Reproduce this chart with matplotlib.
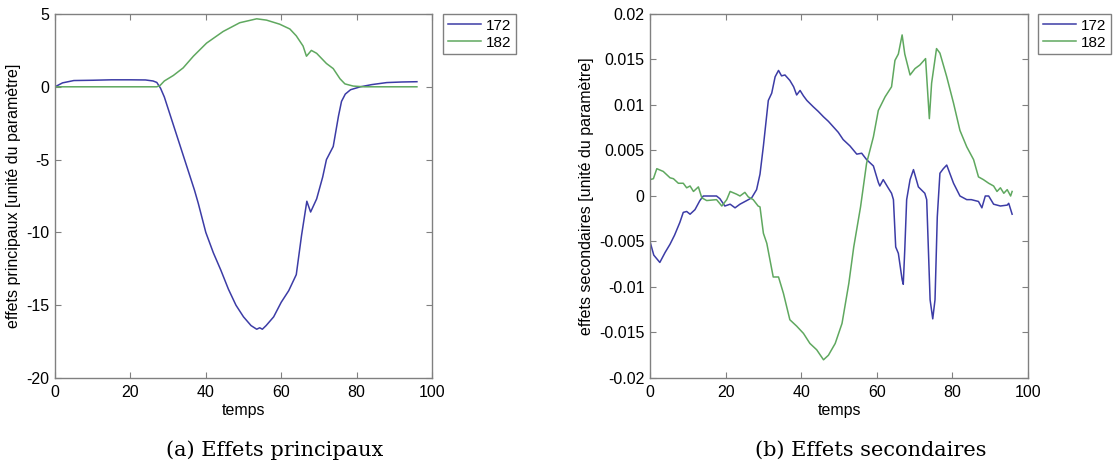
import matplotlib
matplotlib.use("Agg")
import matplotlib.pyplot as plt
from matplotlib.ticker import FuncFormatter

plt.rcParams['font.family'] = ['Liberation Sans', 'DejaVu Sans']
plt.rcParams['axes.unicode_minus'] = False

# ---------------- data ----------------
series_names = ["172", "182"]

# (a) main effects
main_172_x = [0, 2, 5, 10, 15, 20, 24, 26, 27, 28, 29, 30, 31, 32, 33, 34, 35, 36, 37, 38, 39, 40,
              42, 44, 46, 48, 50, 52, 53.5, 54.3, 55, 56, 58, 60, 62, 64, 65.4, 66.8, 67.8, 69.4,
              71, 72, 73.8, 75.2, 76, 77, 78.4, 81, 84, 88, 92, 96]
main_172_y = [0.0, 0.27, 0.43, 0.45, 0.48, 0.48, 0.47, 0.4, 0.3, -0.1, -0.7, -1.5, -2.3, -3.1, -3.9,
              -4.7, -5.5, -6.3, -7.1, -8.0, -9.0, -10.0, -11.4, -12.6, -13.9, -15.0, -15.8, -16.4,
              -16.65, -16.55, -16.65, -16.4, -15.8, -14.8, -14.0, -12.9, -10.2, -7.86, -8.6, -7.7,
              -6.2, -5.0, -4.1, -2.0, -1.0, -0.5, -0.2, 0.0, 0.15, 0.29, 0.33, 0.35]

main_182_x = [0, 27, 27.9, 29, 31.4, 34, 36.7, 40.2, 44.6, 49, 53.5, 56.1, 59.6, 62.3, 64, 65.8,
              66.7, 68, 69.4, 72, 73.8, 75.6, 76.9, 79.1, 82, 96]
main_182_y = [0.0, 0.0, 0.1, 0.4, 0.78, 1.3, 2.1, 3.0, 3.8, 4.4, 4.67, 4.58, 4.3, 3.97, 3.5, 2.8,
              2.1, 2.5, 2.3, 1.6, 1.25, 0.55, 0.2, 0.05, 0.0, 0.0]

# (b) secondary effects
sec_172_x = [0, 1, 2.6, 4, 5.3, 6.5, 7.9, 8.8, 9.7, 10.6, 11.9, 13.2, 14.1, 15, 16, 17.6, 18.5,
             19.8, 21.2, 22.5, 23.8, 25.6, 26.9, 28.2, 29.1, 30, 31.3, 32.2, 33.1, 34, 34.8, 35.7,
             37, 38, 38.8, 39.7, 40.6, 41.5, 43.2, 44.5, 45.9, 47.2, 48.5, 49.8, 51.1, 52.9, 54.7,
             56, 57.3, 59.1, 60.4, 60.8, 61.7, 63, 63.9, 64.4, 65, 65.7, 66.7, 67, 67.4, 67.9,
             68.8, 69.7, 71, 72.7, 73.2, 74.1, 74.8, 75.4, 76, 76.7, 77.6, 78.5, 80.3, 82, 83.8,
             85, 86.9, 87.8, 88.7, 89.6, 90.9, 92.7, 94.5, 94.9, 95.8]
sec_172_y = [-0.0050, -0.0065, -0.0073, -0.0062, -0.0053, -0.0043, -0.0029, -0.0018, -0.0017,
             -0.0020, -0.0015, -0.0005, 0.0, 0.0, 0.0, 0.0, -0.0003, -0.0011, -0.0009, -0.0013,
             -0.0009, -0.0005, -0.0002, 0.0007, 0.0024, 0.0055, 0.0105, 0.0113, 0.0131, 0.0138,
             0.0132, 0.0133, 0.0127, 0.0120, 0.0111, 0.0116, 0.0110, 0.0105, 0.0098, 0.0093,
             0.0087, 0.0082, 0.0076, 0.0070, 0.0062, 0.0055, 0.0046, 0.0047, 0.0040, 0.0033,
             0.0015, 0.0011, 0.0018, 0.0009, 0.0003, -0.0004, -0.0056, -0.0063, -0.0092, -0.0097,
             -0.0059, -0.0004, 0.0018, 0.0029, 0.0010, 0.0003, -0.0004, -0.0114, -0.0135, -0.0114,
             -0.0023, 0.0025, 0.0030, 0.0034, 0.0014, 0.0, -0.0004, -0.0004, -0.0006, -0.0013,
             0.0, 0.0, -0.0009, -0.0011, -0.0010, -0.0008, -0.0020]

sec_182_x = [0, 0.9, 1.8, 3.5, 5.3, 6.2, 7.5, 8.8, 9.7, 10.6, 11.5, 12.8, 13.7, 15, 17.6, 19,
             20.3, 21.2, 22.9, 23.8, 25.1, 26, 27.3, 28.6, 29.1, 30, 30.9, 32.6, 34, 35.3, 37,
             38.8, 40.6, 42.3, 44.1, 45.9, 47.2, 49, 50.8, 52.6, 53.9, 55.7, 57.3, 59.1, 60.4,
             62.2, 63.9, 64.8, 65.7, 66.7, 67.4, 68.8, 70.1, 71.4, 72.9, 73.9, 74.5, 75.8, 76.7,
             78.5, 80.3, 82, 83.8, 85.6, 86.9, 88.2, 89.6, 90.9, 91.8, 92.7, 93.6, 94.5, 95.4, 95.8]
sec_182_y = [0.0018, 0.0019, 0.0030, 0.0027, 0.0020, 0.0019, 0.0014, 0.0014, 0.0009, 0.0011,
             0.0005, 0.0010, -0.0002, -0.0005, -0.0004, -0.0011, -0.0004, 0.0005, 0.0002, 0.0,
             0.0004, -0.0001, -0.0004, -0.0011, -0.0012, -0.0041, -0.0052, -0.0089, -0.0089,
             -0.0107, -0.0136, -0.0143, -0.0151, -0.0162, -0.0169, -0.0180, -0.0175, -0.0162,
             -0.0140, -0.0096, -0.0056, -0.0012, 0.0036, 0.0065, 0.0094, 0.0109, 0.0120, 0.0149,
             0.0156, 0.0177, 0.0156, 0.0133, 0.0140, 0.0144, 0.0151, 0.0085, 0.0124, 0.0162,
             0.0157, 0.0131, 0.0102, 0.0072, 0.0054, 0.0040, 0.0021, 0.0018, 0.0014, 0.0011,
             0.0005, 0.0009, 0.0003, 0.0007, 0.0, 0.0005]

xlabel = "temps"
ylabel_a = "effets principaux [unité du paramètre]"
ylabel_b = "effets secondaires [unité du paramètre]"
caption_a = "(a) Effets principaux"
caption_b = "(b) Effets secondaires"
xticks = [0, 20, 40, 60, 80, 100]
yticks_a = [-20, -15, -10, -5, 0, 5]
yticks_b = [-0.02, -0.015, -0.01, -0.005, 0, 0.005, 0.01, 0.015, 0.02]

# ---------------- style ----------------
c_blue = '#3c3ca6'
c_green = '#5fa85f'
frame_c = '#808080'
W, H = 1115, 465

fig = plt.figure(figsize=(W / 100, H / 100), dpi=100)
fig.patch.set_facecolor('white')

def px_axes(l, t, r, b):
    return fig.add_axes([l / W, 1 - b / H, (r - l) / W, (b - t) / H])

ax1 = px_axes(55, 14, 432, 378)
ax2 = px_axes(650, 14, 1028, 378)

def style(ax, yticks, ylim, ylabel):
    ax.set_xlim(0, 100)
    ax.set_ylim(*ylim)
    ax.set_xticks(xticks)
    ax.set_yticks(yticks)
    for s in ax.spines.values():
        s.set_color(frame_c)
        s.set_linewidth(1.0)
    ax.tick_params(direction='in', top=True, right=True, length=4, width=0.8,
                   color=frame_c, labelsize=11.5, labelcolor='black')
    ax.tick_params(axis='x', pad=5)
    ax.tick_params(axis='y', pad=4)
    ax.set_xlabel(xlabel, fontsize=11.5, labelpad=2)
    ax.set_ylabel(ylabel, fontsize=11.5, labelpad=4)

ax1.plot(main_172_x, main_172_y, color=c_blue, lw=1.1, label=series_names[0])
ax1.plot(main_182_x, main_182_y, color=c_green, lw=1.1, label=series_names[1])
style(ax1, yticks_a, (-20, 5), ylabel_a)

ax2.plot(sec_172_x, sec_172_y, color=c_blue, lw=1.1, label=series_names[0])
ax2.plot(sec_182_x, sec_182_y, color=c_green, lw=1.1, label=series_names[1])
style(ax2, yticks_b, (-0.02, 0.02), ylabel_b)
ax2.yaxis.set_major_formatter(FuncFormatter(lambda v, p: ('%g' % round(v, 4))))

for ax, lx in ((ax1, (443 - 55) / 377), (ax2, (1038 - 650) / 378)):
    leg = ax.legend(loc='upper left', bbox_to_anchor=(lx, 1.0), borderaxespad=0,
                    fontsize=11, handlelength=2.2, handletextpad=0.3,
                    borderpad=0.3, labelspacing=0.2, fancybox=False,
                    frameon=True, edgecolor='#606060')
    leg.get_frame().set_linewidth(1.0)

fig.text(275 / W, 1 - 450 / H, caption_a, ha='center', va='center',
         fontsize=15, family='DejaVu Serif')
fig.text(871 / W, 1 - 450 / H, caption_b, ha='center', va='center',
         fontsize=15, family='DejaVu Serif')

fig.savefig('out.png', dpi=100)
